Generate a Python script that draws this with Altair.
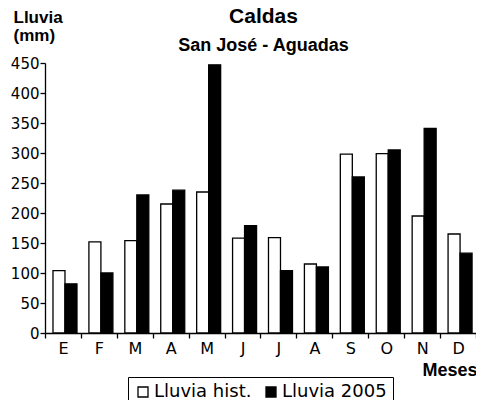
import altair as alt
import pandas as pd

meses = ["Ene", "Feb", "Mar", "Abr", "May", "Jun", "Jul", "Ago", "Sep", "Oct", "Nov", "Dic"]
lluvia_hist = [104, 152, 154, 215, 235, 158, 159, 115, 298, 299, 195, 165]
lluvia_2005 = [82, 100, 230, 238, 447, 179, 104, 110, 260, 305, 341, 133]
series = ["Lluvia hist.", "Lluvia 2005"]
y_ticks = [0, 50, 100, 150, 200, 250, 300, 350, 400, 450]

rows = []
for m, h, v in zip(meses, lluvia_hist, lluvia_2005):
    rows.append({"mes": m, "serie": series[0], "valor": h})
    rows.append({"mes": m, "serie": series[1], "valor": v})
df = pd.DataFrame(rows)

BOLD = "Liberation Sans"
REG = "DejaVu Sans"

chart = alt.Chart(df).mark_bar(stroke="black", strokeWidth=1.3).encode(
    x=alt.X(
        "mes:N", sort=meses,
        scale=alt.Scale(paddingInner=0, paddingOuter=0),
        axis=alt.Axis(
            title="Meses", labelExpr="substring(datum.label, 0, 1)", labelAngle=0,
            tickBand="extent", tickSize=5, labelPadding=2,
            labelFont=REG, labelFontSize=16, labelColor="black",
            titleFont=BOLD, titleFontSize=18, titleFontWeight="bold", titleColor="black",
            titleAnchor="end", titleAlign="right", titleBaseline="alphabetic",
            titleX=432, titleY=42,
        ),
    ),
    xOffset=alt.XOffset(
        "serie:N", sort=series,
        scale=alt.Scale(domain=series, paddingInner=0, paddingOuter=0.497, align=0.67),
    ),
    y=alt.Y(
        "valor:Q",
        scale=alt.Scale(domain=[0, 450], nice=False),
        axis=alt.Axis(
            values=y_ticks, title=["Lluvia", "(mm)"], titleAngle=0,
            titleAlign="left", titleBaseline="alphabetic", titleX=-32, titleY=-41,
            titleLineHeight=18,
            titleFont=BOLD, titleFontSize=17, titleFontWeight="bold", titleColor="black",
            tickSize=5, labelPadding=1,
            labelFont=REG, labelFontSize=15, labelColor="black",
        ),
    ),
    color=alt.Color(
        "serie:N", sort=series,
        scale=alt.Scale(domain=series, range=["white", "black"]),
        legend=alt.Legend(
            title=None, orient="none", direction="horizontal",
            legendX=83, legendY=314,
            strokeColor="black", padding=6,
            symbolType="square", symbolSize=100, symbolStrokeColor="black",
            symbolStrokeWidth=1.3, symbolOpacity=1,
            labelFont=REG, labelFontSize=18, labelColor="black", labelOffset=2,
            columnPadding=10,
        ),
    ),
).properties(
    width=431,
    height=270,
    autosize=alt.AutoSizeParams(type="none"),
    padding={"left": 37, "top": 55, "right": 0, "bottom": 67},
    title=alt.Title(
        "Caldas", subtitle="San José - Aguadas",
        font=BOLD, fontSize=21, fontWeight="bold", color="black",
        subtitleFont=BOLD, subtitleFontSize=18, subtitleFontWeight="bold",
        subtitleColor="black", anchor="middle", frame="group",
        dx=3, dy=55, offset=8, subtitlePadding=10,
    ),
).configure_view(stroke=None).configure_axis(
    grid=False, domainColor="black", tickColor="black", domainWidth=1.3, tickWidth=1.3,
)

chart.save("out.html", embed_options={"renderer": "svg", "actions": False})
